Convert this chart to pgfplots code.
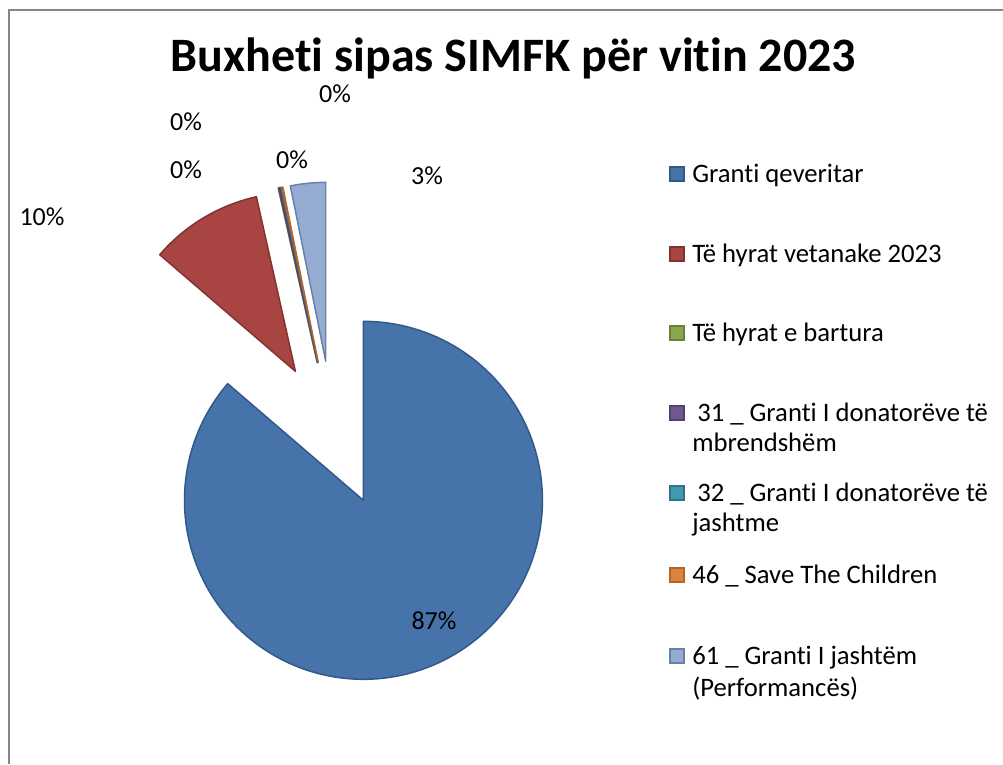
\documentclass[border=0pt]{standalone}
\usepackage{pgfplots}
\pgfplotsset{compat=1.18}
\usepackage{fontspec}
\setmainfont{Carlito}[Ligatures=NoCommon]

\definecolor{cBlue}{RGB}{70,116,170}
\definecolor{cBlueD}{RGB}{50,88,135}
\definecolor{cRed}{RGB}{168,69,66}
\definecolor{cRedD}{RGB}{130,50,48}
\definecolor{cGreen}{RGB}{137,165,78}
\definecolor{cGreenD}{RGB}{105,128,58}
\definecolor{cPurple}{RGB}{113,88,143}
\definecolor{cPurpleD}{RGB}{85,65,110}
\definecolor{cTeal}{RGB}{65,152,175}
\definecolor{cTealD}{RGB}{45,118,138}
\definecolor{cOrange}{RGB}{219,132,61}
\definecolor{cOrangeD}{RGB}{180,100,40}
\definecolor{cLBlue}{RGB}{149,171,209}
\definecolor{cLBlueD}{RGB}{105,128,168}

% shares in percent
\def\vA{86.3}  % Granti qeveritar
\def\vB{10.2}  % Te hyrat vetanake 2023
\def\vC{0.03}  % Te hyrat e bartura
\def\vD{0.15}  % 31
\def\vE{0.05}  % 32
\def\vF{0.10}  % 46
\def\vG{3.17}  % 61

\pgfmathsetmacro\cA{\vA}
\pgfmathsetmacro\cB{\cA+\vB}
\pgfmathsetmacro\cC{\cB+\vC}
\pgfmathsetmacro\cD{\cC+\vD}
\pgfmathsetmacro\cE{\cD+\vE}
\pgfmathsetmacro\cF{\cE+\vF}
\pgfmathsetmacro\cG{\cF+\vG}

\def\cx{333}\def\cy{330}\def\rr{179}\def\dd{73}

\newcommand{\slice}[5]{%
  \pgfmathsetmacro{\aA}{90-3.6*#2}%
  \pgfmathsetmacro{\aB}{90-3.6*#1}%
  \pgfmathsetmacro{\am}{(\aA+\aB)/2}%
  \pgfmathsetmacro{\vx}{\cx+\dd*cos(\am)}%
  \pgfmathsetmacro{\vy}{\cy+\dd*sin(\am)}%
  \pgfmathtruncatemacro{\ns}{max(3,abs(\aB-\aA)/2+2)}%
  \edef\temp{\noexpand\addplot[fill=#3,draw=#4,line width=#5,line join=round,domain=\aA:\aB,samples=\ns] ({\vx+\rr*cos(x)},{\vy+\rr*sin(x)}) -- (axis cs:\vx,\vy) -- cycle;}%
  \temp
}

\newcommand{\lsq}[3]{% y center, fill, draw
  \draw[fill=#2,draw=#3,line width=0.8pt] (axis cs:670,#1-7) rectangle (axis cs:684,#1+7);
}

\begin{document}
\begin{tikzpicture}
\begin{axis}[name=ax,
  scale only axis, width=752.25pt, height=573pt,
  xmin=0, xmax=1003, ymin=0, ymax=764,
  hide axis, clip=false]

\slice{0}{\cA}{cBlue}{cBlueD}{1.1pt}
\slice{\cA}{\cB}{cRed}{cRedD}{1.1pt}
\slice{\cB}{\cC}{cGreen}{cGreenD}{1pt}
\slice{\cC}{\cD}{cPurple}{cPurpleD}{1.2pt}
\slice{\cD}{\cE}{cTeal}{cTealD}{1pt}
\slice{\cE}{\cF}{cOrange}{cOrangeD}{1pt}
\slice{\cF}{\cG}{cLBlue}{cLBlueD}{1.1pt}

\draw[color={rgb,255:red,134;green,134;blue,134}, line width=1.5pt] (axis cs:9,0) -- (axis cs:9,754) -- (axis cs:1003,754);

\node[anchor=base, inner sep=0, font=\fontsize{36}{42}\selectfont\bfseries] at (axis cs:513.5,692) {Buxheti sipas SIMFK për vitin 2023};

\begin{scope}[every node/.style={anchor=base, inner sep=0, font=\fontsize{19.5}{23}\selectfont}]
\node at (axis cs:335,661) {0\%};
\node at (axis cs:186,633) {0\%};
\node at (axis cs:186,585) {0\%};
\node at (axis cs:292,595) {0\%};
\node at (axis cs:427,579) {3\%};
\node at (axis cs:42,538) {10\%};
\node at (axis cs:434,134) {87\%};
\end{scope}

\lsq{590}{cBlue}{cBlueD}
\lsq{510}{cRed}{cRedD}
\lsq{431}{cGreen}{cGreenD}
\lsq{351}{cPurple}{cPurpleD}
\lsq{271}{cTeal}{cTealD}
\lsq{189}{cOrange}{cOrangeD}
\lsq{108}{cLBlue}{cLBlueD}

\begin{scope}[every node/.style={anchor=base west, inner sep=0, font=\fontsize{20}{24}\selectfont}]
\node at (axis cs:692,581) {Granti qeveritar};
\node at (axis cs:692,501) {Të hyrat vetanake 2023};
\node at (axis cs:692,422) {Të hyrat e bartura};
\node at (axis cs:692,342) {\hspace{3.75pt}31 \_ Granti I donatorëve të};
\node at (axis cs:692,312) {mbrendshëm};
\node at (axis cs:692,262) {\hspace{3.75pt}32 \_ Granti I donatorëve të};
\node at (axis cs:692,232) {jashtme};
\node at (axis cs:692,180) {46 \_ Save The Children};
\node at (axis cs:692,99) {61 \_ Granti I jashtëm};
\node at (axis cs:692,67) {(Performancës)};
\end{scope}
\end{axis}
\pgfresetboundingbox
\path[use as bounding box] (ax.south west) rectangle (ax.north east);
\end{tikzpicture}
\end{document}
